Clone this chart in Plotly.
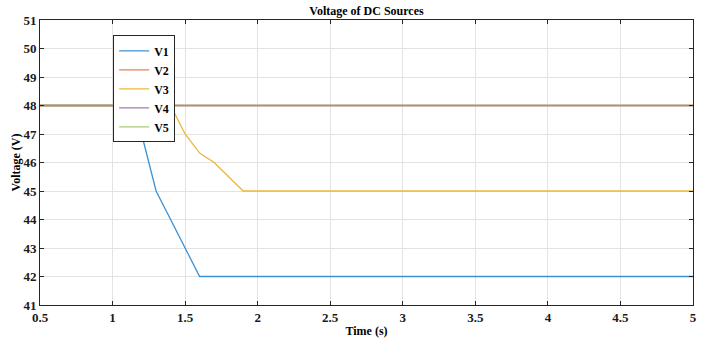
import plotly.graph_objects as go

t_v1 = [0.5, 1.0, 1.1, 1.2, 1.3, 1.6, 5.0]
v1 = [48, 48, 47.33, 47, 45, 42, 42]
t_v3 = [0.5, 1.4, 1.5, 1.6, 1.7, 1.9, 5.0]
v3 = [48, 48, 47, 46.33, 46, 45, 45]
t_const = [0.5, 5.0]
v2 = [48, 48]
v4 = [48, 48]
v5 = [48, 48]

x_ticks = [0.5, 1, 1.5, 2, 2.5, 3, 3.5, 4, 4.5, 5]
x_labels = ["0.5", "1", "1.5", "2", "2.5", "3", "3.5", "4", "4.5", "5"]
y_ticks = list(range(41, 52))

font = "Liberation Serif"
fig = go.Figure()
series = [
    ("V1", t_v1, v1, "#3d91d3", 1.0),
    ("V2", t_const, v2, "#e9805a", 1.0),
    ("V3", t_v3, v3, "#edb63c", 1.0),
    ("V4", t_const, v4, "#a77ab5", 1.0),
    ("V5", t_const, v5, "#80b83a", 0.7),
]
for name, x, y, c, op in series:
    fig.add_trace(go.Scatter(x=x, y=y, mode="lines", name=name, opacity=op,
                             line=dict(color=c, width=1.3)))

axis_common = dict(showline=True, linecolor="#262626", linewidth=1, mirror="ticks",
                   ticks="inside", ticklen=4, tickcolor="#262626", automargin=False,
                   showgrid=True, gridcolor="#e3e3e3", gridwidth=1, zeroline=False,
                   tickfont=dict(family=font, size=13, color="#1a1a1a", weight="bold"))
fig.update_layout(
    width=709, height=340,
    margin=dict(l=40, r=16, t=20, b=35, pad=0),
    paper_bgcolor="white", plot_bgcolor="white",
    title=dict(text="Voltage of DC Sources", x=0.5, xanchor="center", xref="paper",
               y=0.968, yanchor="middle", yref="container",
               font=dict(family=font, size=12, color="black", weight="bold")),
    xaxis=dict(range=[0.5, 5], tickvals=x_ticks, ticktext=x_labels,
               title=dict(text="Time (s)", standoff=3,
                          font=dict(family=font, size=12, color="black", weight="bold")),
               **axis_common),
    yaxis=dict(range=[41, 51], tickvals=y_ticks,
               title=dict(text="Voltage (V)", standoff=0,
                          font=dict(family=font, size=12, color="black", weight="bold")),
               **axis_common),
    legend=dict(x=0.112, y=0.946, xanchor="left", yanchor="top",
                bgcolor="white", bordercolor="#262626", borderwidth=1,
                font=dict(family=font, size=12, color="black", weight="bold"),
                itemwidth=30, tracegroupgap=0),
    showlegend=True,
)
fig.write_html("out.html", config={"displayModeBar": False},
               post_script="document.body.style.margin='0';document.body.style.padding='0';")
